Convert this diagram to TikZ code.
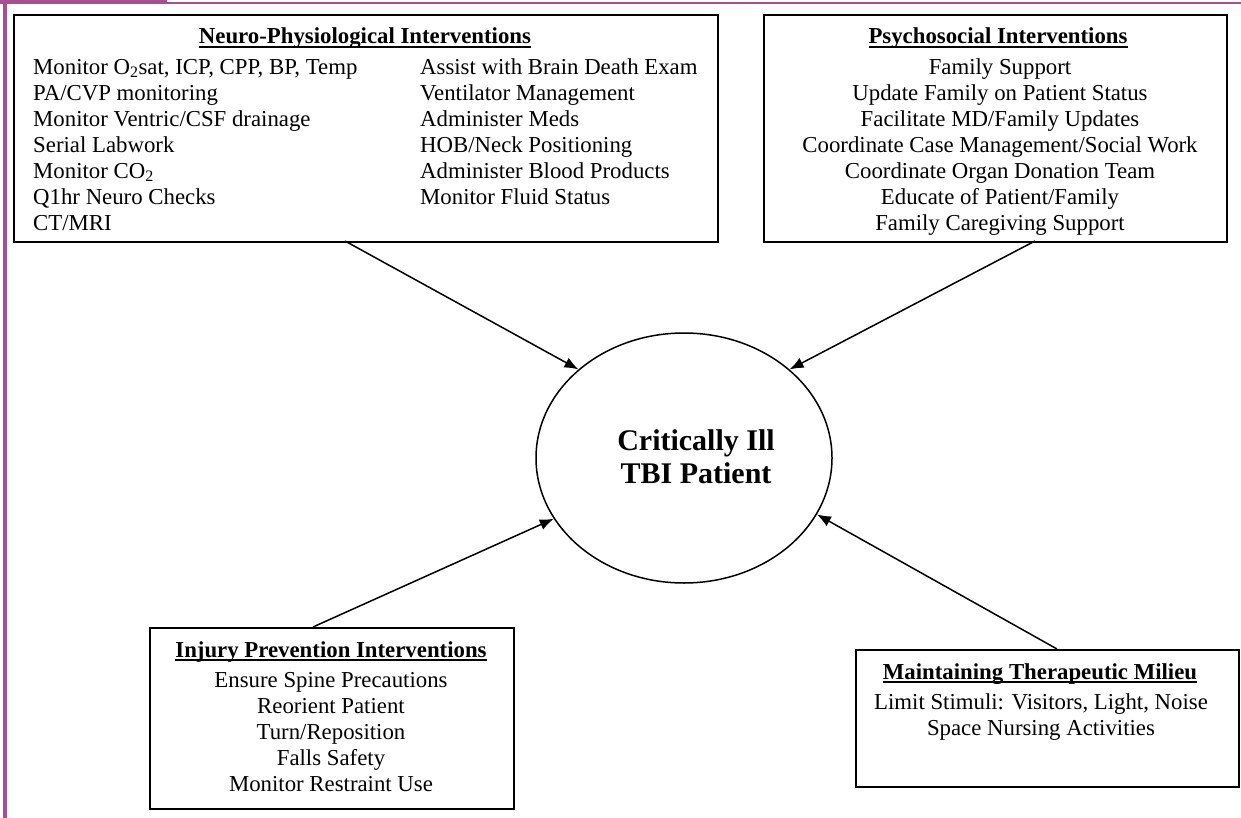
\documentclass[tikz,border=0pt]{standalone}
\usepackage{fontspec}
\setmainfont{Liberation Serif}
\usetikzlibrary{arrows.meta,shapes.geometric}
\definecolor{magbar}{RGB}{168,79,147}
\newcommand\myul[1]{\setbox0\hbox{#1}\rlap{\rule[-3.8pt]{\wd0}{2pt}}\box0}
\begin{document}
\begin{tikzpicture}[x=1pt,y=-1pt,
  boxnode/.style={draw, line width=2pt, inner sep=0pt, anchor=north west},
  body/.style={inner sep=0pt, font=\fontsize{22.8}{26}\selectfont},
  ttl/.style={inner sep=0pt, anchor=base, font=\fontsize{22.8}{26}\selectfont\bfseries},
  arr/.style={line width=1.5pt, -{Latex[length=14pt,width=11pt]}}]
\useasboundingbox (0,0) rectangle (1241,818);
% magenta page decoration
\fill[magbar] (0,0) rectangle (167,4);
\fill[magbar] (167,1.7) rectangle (1241,4.2);
\fill[magbar] (3.3,0) rectangle (6.7,818);
% boxes
\node[boxnode, minimum width=704pt, minimum height=227pt] (b1) at (13,14) {};
\node[boxnode, minimum width=463pt, minimum height=227pt] (b2) at (763,14) {};
\node[boxnode, minimum width=364pt, minimum height=181pt] (b3) at (149,627) {};
\node[boxnode, minimum width=383pt, minimum height=137pt] (b4) at (855,649) {};
% box 1
\node[ttl] (t1) at (365,44) {\myul{Neuro-Physiological Interventions}};
\node[body, anchor=north west, align=left] (b1l) at (33,55.8) {\strut Monitor O\textsubscript{2}sat, ICP, CPP, BP, Temp\\PA/CVP monitoring\\Monitor Ventric/CSF drainage\\Serial Labwork\\Monitor CO\textsubscript{2}\\Q1hr Neuro Checks\\CT/MRI};
\node[body, anchor=north west, align=left] (b1r) at (420,55.8) {\strut Assist with Brain Death Exam\\Ventilator Management\\Administer Meds\\HOB/Neck Positioning\\Administer Blood Products\\Monitor Fluid Status};
% box 2
\node[ttl] (t2) at (998,44) {\myul{Psychosocial Interventions}};
\node[body, anchor=north, align=center] (b2t) at (1000,55.8) {\strut Family Support\\Update Family on Patient Status\\Facilitate MD/Family Updates\\Coordinate Case Management/Social Work\\Coordinate Organ Donation Team\\Educate of Patient/Family\\Family Caregiving Support};
% box 3
\node[ttl] (t3) at (331,657) {\myul{Injury Prevention Interventions}};
\node[body, anchor=north, align=center] (b3t) at (331,668.8) {\strut Ensure Spine Precautions\\Reorient Patient\\Turn/Reposition\\Falls Safety\\Monitor Restraint Use};
% box 4
\node[ttl] (t4) at (1040,679) {\myul{Maintaining Therapeutic Milieu}};
\node[body, anchor=north, align=center] (b4t) at (1041,690.8) {\strut Limit Stimuli: Visitors, Light, Noise\\Space Nursing Activities};
% centre
\node[draw, ellipse, line width=1.5pt, inner sep=0pt, minimum width=296pt, minimum height=250pt] (pt) at (684,458) {};
\node[inner sep=0pt, anchor=north, align=center, font=\fontsize{30}{33}\selectfont\bfseries] (ptt) at (696,426.9) {\strut Critically Ill\\TBI Patient};
% arrows
\coordinate (s1) at (345,241);
\coordinate (s2) at (1035,241);
\coordinate (s3) at (313,627);
\coordinate (s4) at (1057,649);
\draw[arr] (s1) -- (pt.140);
\draw[arr] (s2) -- (pt.40);
\draw[arr] (s3) -- (pt.205);
\draw[arr] (s4) -- (pt.337);
\end{tikzpicture}
\end{document}
